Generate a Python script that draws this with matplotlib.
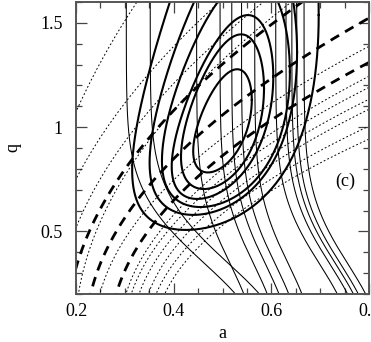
import numpy as np
import matplotlib
matplotlib.use('Agg')
import matplotlib.pyplot as plt
from matplotlib.ticker import MultipleLocator, FixedLocator, FixedFormatter

plt.rcParams['font.family'] = ['Liberation Serif', 'DejaVu Serif']
plt.rcParams['lines.scale_dashes'] = False

# ---- axis ticks ----
x_ticks = [0.2, 0.4, 0.6, 0.8]
x_tick_labels = ['0.2', '0.4', '0.6', '0.8']
y_ticks = [0.5, 1.0, 1.5]
y_tick_labels = ['0.5', '1', '1.5']

# ---- thick confidence contours (ellipses in a - ln q):
#      centre a, centre ln q, width in a, half-height in ln q, correlation ----
ell_a = [0.500, 0.500, 0.500, 0.507, 0.5017, 0.506]
ell_lnq = [0.000, 0.008, 0.004, 0.030, 0.060, 0.100]
ell_sa = [0.060, 0.085, 0.104, 0.131, 0.151, 0.191]
ell_sl = [0.245, 0.360, 0.426, 0.513, 0.606, 0.779]
ell_rho = [0.50, 0.45, 0.50, 0.40, 0.408, 0.424]

# ---- thin solid constraint curves: a = base + amp * exp(-(q / w)^2) ----
thin_base = [0.303, 0.352,
             0.447, 0.495, 0.519, 0.539, 0.566,
             0.609, 0.630, 0.642, 0.652, 0.667]
thin_amp = [0.264, 0.264,
            0.115, 0.115, 0.115, 0.115, 0.115,
            0.150, 0.150, 0.150, 0.150, 0.150]
thin_w = [0.49, 0.49,
          0.48, 0.48, 0.48, 0.48, 0.48,
          0.48, 0.48, 0.48, 0.48, 0.48]

# ---- thick dashed curves: q = sqrt(k (a - a0)) ----
dash_k = [5.3, 4.0, 3.24]
dash_a0 = [0.180, 0.220, 0.270]

# ---- dotted curves: q = sqrt(k (a - a0)) ----
dot_k = [11.29, 6.80, 5.97, 5.78, 3.42, 3.03, 2.83, 2.645, 2.52, 2.225, 2.03]
dot_a0 = [0.098, 0.117, 0.155, 0.198, 0.237, 0.289, 0.299, 0.314, 0.332, 0.346, 0.362]

panel_label = '(c)'

fig = plt.figure(figsize=(3.71, 3.42), dpi=100)
ax = fig.add_axes([76 / 371, 48 / 342, 293 / 371, 292 / 342])

# thick contours
t = np.linspace(0, 2 * np.pi, 800)
for ca, cl, sa, sl, r in zip(ell_a, ell_lnq, ell_sa, ell_sl, ell_rho):
    aa = ca + sa * np.cos(t)
    ll = cl + sl * (r * np.cos(t) + np.sqrt(1 - r * r) * np.sin(t))
    ax.plot(aa, np.exp(ll), color='black', lw=1.5)

# thin curves
qg = np.linspace(0.05, 1.75, 400)
for b, A, w in zip(thin_base, thin_amp, thin_w):
    ax.plot(b + A * np.exp(-(qg / w) ** 2), qg, color='black', lw=0.75)

# dashed
for k, a0 in zip(dash_k, dash_a0):
    ag = np.linspace(a0, 0.9, 800)
    ax.plot(ag, np.sqrt(k * (ag - a0)), color='black', lw=2.0,
            linestyle=(0, (7, 5)))

# dotted
for k, a0 in zip(dot_k, dot_a0):
    ag = np.linspace(a0, 0.9, 800)
    ax.plot(ag, np.sqrt(k * (ag - a0)), color='black', lw=0.7,
            linestyle=(0, (1.3, 1.6)))

ax.text(0.752, 0.742, panel_label, ha='center', va='center', fontsize=13)

ax.set_xlim(0.2, 0.8)
ax.set_ylim(0.2, 1.6)
ax.xaxis.set_major_locator(FixedLocator(x_ticks))
ax.xaxis.set_major_formatter(FixedFormatter(x_tick_labels))
ax.yaxis.set_major_locator(FixedLocator(y_ticks))
ax.yaxis.set_major_formatter(FixedFormatter(y_tick_labels))
ax.xaxis.set_minor_locator(MultipleLocator(0.05))
ax.yaxis.set_minor_locator(MultipleLocator(0.1))
ax.tick_params(which='both', direction='in', top=True, right=True,
               labelsize=13, color='#444')
ax.tick_params(which='major', length=8, width=0.9)
ax.tick_params(which='minor', length=4.3, width=0.9)
ax.tick_params(axis='x', pad=6.5)
ax.tick_params(axis='y', pad=9.5)
for s in ax.spines.values():
    s.set_linewidth(1.4)
    s.set_color('#555')

fig.text(222 / 371, 1 - 333 / 342, 'a', ha='center', va='center', fontsize=13)
fig.text(13 / 371, 1 - 148 / 342, 'q', ha='center', va='center', fontsize=13,
         rotation=90)

fig.savefig('out.png', dpi=100)
